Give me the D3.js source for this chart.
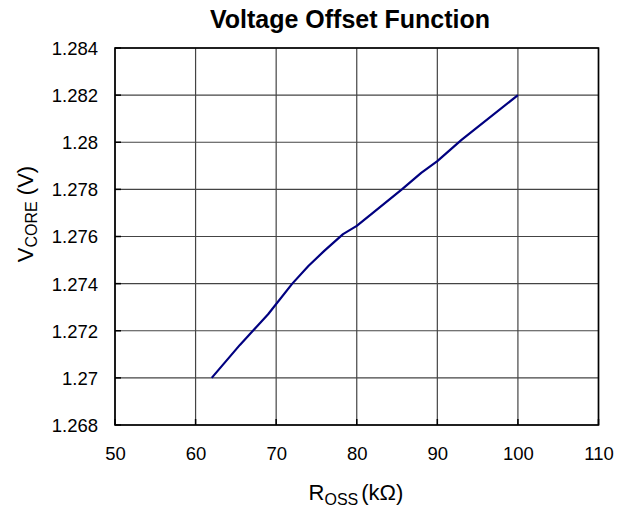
<!DOCTYPE html>
<html>
<head>
<meta charset="utf-8">
<script src="https://cdn.jsdelivr.net/npm/d3@7/dist/d3.min.js"></script>
<style>
  html, body { margin: 0; padding: 0; background: #fff; }
  svg { display: block; font-family: "Liberation Sans", Arial, sans-serif; }
</style>
</head>
<body>
<svg id="chart" width="626" height="509"></svg>
<script>
const titleText = "Voltage Offset Function";
const xTicks = [50, 60, 70, 80, 90, 100, 110];
const yTicks = [1.268, 1.270, 1.272, 1.274, 1.276, 1.278, 1.280, 1.282, 1.284];
const rossValues = [62, 65.5, 69, 72, 74, 76, 78.3, 80, 82, 85.6, 88, 90, 93, 100];
const vcoreValues = [1.2700, 1.2714, 1.2727, 1.2740, 1.27475, 1.2754, 1.2761, 1.27645, 1.2770, 1.2780, 1.2787, 1.2792, 1.2801, 1.2820];

const svg = d3.select("#chart");
const pL = 115, pR = 598.5, pT = 48, pB = 425;

const x = d3.scaleLinear().domain([50, 110]).range([pL, pR]);
const y = d3.scaleLinear().domain([1.268, 1.284]).range([pB, pT]);

const fmtY = v => String(+v.toFixed(3));

// gridlines
svg.append("g").selectAll("line").data(xTicks).join("line")
  .attr("x1", d => x(d)).attr("x2", d => x(d))
  .attr("y1", pT).attr("y2", pB)
  .attr("stroke", "#444").attr("stroke-width", 1.2);
svg.append("g").selectAll("line").data(yTicks).join("line")
  .attr("y1", d => y(d)).attr("y2", d => y(d))
  .attr("x1", pL).attr("x2", pR)
  .attr("stroke", "#444").attr("stroke-width", 1.2);

// axes (labels only, ticks drawn inward)
const xAxis = d3.axisBottom(x).tickValues(xTicks).tickSize(0).tickPadding(0).tickFormat(d3.format("d"));
const gx = svg.append("g").attr("transform", `translate(0,${pB})`).call(xAxis);
gx.select(".domain").remove();
gx.selectAll("text").attr("font-size", 18.5).attr("fill", "#000")
  .attr("font-family", "'Liberation Sans', Arial, sans-serif")
  .attr("dy", null).attr("y", 35);

const yAxis = d3.axisLeft(y).tickValues(yTicks).tickSize(0).tickPadding(0).tickFormat(fmtY);
const gy = svg.append("g").attr("transform", `translate(${pL},0)`).call(yAxis);
gy.select(".domain").remove();
gy.selectAll("text").attr("font-size", 18.5).attr("fill", "#000")
  .attr("font-family", "'Liberation Sans', Arial, sans-serif")
  .attr("x", -17).attr("dy", "0.35em");

// inner ticks
svg.append("g").selectAll("line").data(yTicks).join("line")
  .attr("x1", pL).attr("x2", pL + 6)
  .attr("y1", d => y(d)).attr("y2", d => y(d))
  .attr("stroke", "#000").attr("stroke-width", 1.5);
svg.append("g").selectAll("line").data(xTicks).join("line")
  .attr("x1", d => x(d)).attr("x2", d => x(d))
  .attr("y1", pB).attr("y2", pB - 6)
  .attr("stroke", "#000").attr("stroke-width", 1.5);

// border
svg.append("rect").attr("x", pL).attr("y", pT)
  .attr("width", pR - pL).attr("height", pB - pT)
  .attr("fill", "none").attr("stroke", "#000").attr("stroke-width", 1.6);

// data line
const pts = rossValues.map((r, i) => [r, vcoreValues[i]]);
svg.append("path").datum(pts)
  .attr("d", d3.line().x(d => x(d[0])).y(d => y(d[1])))
  .attr("fill", "none").attr("stroke", "#000080").attr("stroke-width", 2.2)
  .attr("stroke-linejoin", "round");

// title
svg.append("text").attr("x", 350).attr("y", 28)
  .attr("text-anchor", "middle").attr("font-size", 25).attr("font-weight", "bold")
  .text(titleText);

// x label
const xl = svg.append("text").attr("x", 356).attr("y", 500)
  .attr("text-anchor", "middle").attr("font-size", 22);
xl.append("tspan").text("R");
xl.append("tspan").attr("font-size", 16).attr("dy", 5).text("OSS");
xl.append("tspan").attr("dy", -5).attr("dx", 3).text("(kΩ)");

// y label
const yl = svg.append("text").attr("transform", "translate(33,214) rotate(-90)")
  .attr("text-anchor", "middle").attr("font-size", 22);
yl.append("tspan").text("V");
yl.append("tspan").attr("font-size", 16).attr("dy", 4).text("CORE");
yl.append("tspan").attr("dy", -4).text(" (V)");
</script>
</body>
</html>
